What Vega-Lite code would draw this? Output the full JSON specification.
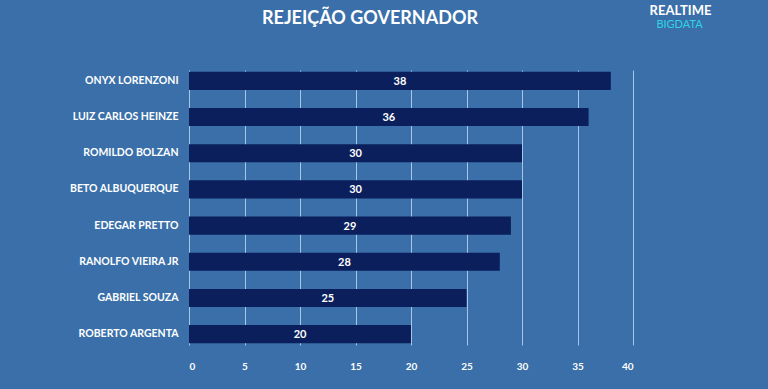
{
  "$schema": "https://vega.github.io/schema/vega-lite/v6.json",
  "width": 444,
  "height": 275,
  "autosize": "none",
  "padding": {"left": 189, "top": 70, "right": 135, "bottom": 44},
  "background": "#3a6fa9",
  "title": {
    "text": "REJEIÇÃO GOVERNADOR",
    "color": "#ffffff",
    "font": "Lato",
    "fontWeight": "bold",
    "fontSize": 18,
    "anchor": "middle",
    "frame": "group",
    "dx": -41,
    "offset": -24
  },
  "data": {
    "values": [
      {"nome": "ONYX LORENZONI", "v": 38},
      {"nome": "LUIZ CARLOS HEINZE", "v": 36},
      {"nome": "ROMILDO BOLZAN", "v": 30},
      {"nome": "BETO ALBUQUERQUE", "v": 30},
      {"nome": "EDEGAR PRETTO", "v": 29},
      {"nome": "RANOLFO VIEIRA JR", "v": 28},
      {"nome": "GABRIEL SOUZA", "v": 25},
      {"nome": "ROBERTO ARGENTA", "v": 20}
    ]
  },
  "config": {
    "view": {"stroke": null},
    "font": "Lato"
  },
  "layer": [
    {
      "mark": {"type": "bar", "color": "#0b1f5c"},
      "encoding": {
        "y": {
          "field": "nome", "type": "nominal", "sort": null,
          "scale": {"paddingInner": 0.5, "paddingOuter": 0.05},
          "axis": {"title": null, "domain": false, "ticks": false, "labelColor": "#ffffff", "labelFont": "Lato", "labelFontWeight": "bold", "labelFontSize": 10.5, "labelPadding": 11}
        },
        "x": {
          "field": "v", "type": "quantitative",
          "scale": {"domain": [0, 40], "nice": false},
          "axis": {"title": null, "values": [0,5,10,15,20,25,30,35,40], "domain": false, "ticks": false, "grid": true, "gridColor": "#b5d0ec", "gridOpacity": 0.9, "gridWidth": 1, "labelColor": "#ffffff", "labelFont": "Lato", "labelFontWeight": "bold", "labelFontSize": 10, "labelPadding": 16}
        }
      }
    },
    {
      "mark": {"type": "text", "color": "#ffffff", "font": "Lato", "fontWeight": "bold", "fontSize": 11, "dy": 1},
      "encoding": {
        "y": {
          "field": "nome", "type": "nominal", "sort": null,
          "axis": {"orient": "right", "labels": false, "domain": false, "ticks": false, "grid": false, "title": "BIGDATA", "titleColor": "#2fd3e6", "titleFont": "Lato", "titleFontSize": 11, "titleFontWeight": "normal", "titleAngle": 0, "titleAlign": "center", "titleBaseline": "middle", "titleX": 46, "titleY": -46}
        },
        "x": {
          "field": "v", "type": "quantitative",
          "scale": {"domain": [0, 80], "nice": false},
          "axis": {"orient": "top", "labels": false, "domain": false, "ticks": false, "grid": false, "title": "REALTIME", "titleColor": "#ffffff", "titleFont": "Lato", "titleFontSize": 13, "titleFontWeight": "bold", "titleAlign": "center", "titleBaseline": "middle", "titleX": 491, "titleY": -60}
        },
        "text": {"field": "v", "type": "quantitative"}
      }
    }
  ],
  "resolve": {"scale": {"x": "independent"}, "axis": {"x": "independent", "y": "independent"}}
}
